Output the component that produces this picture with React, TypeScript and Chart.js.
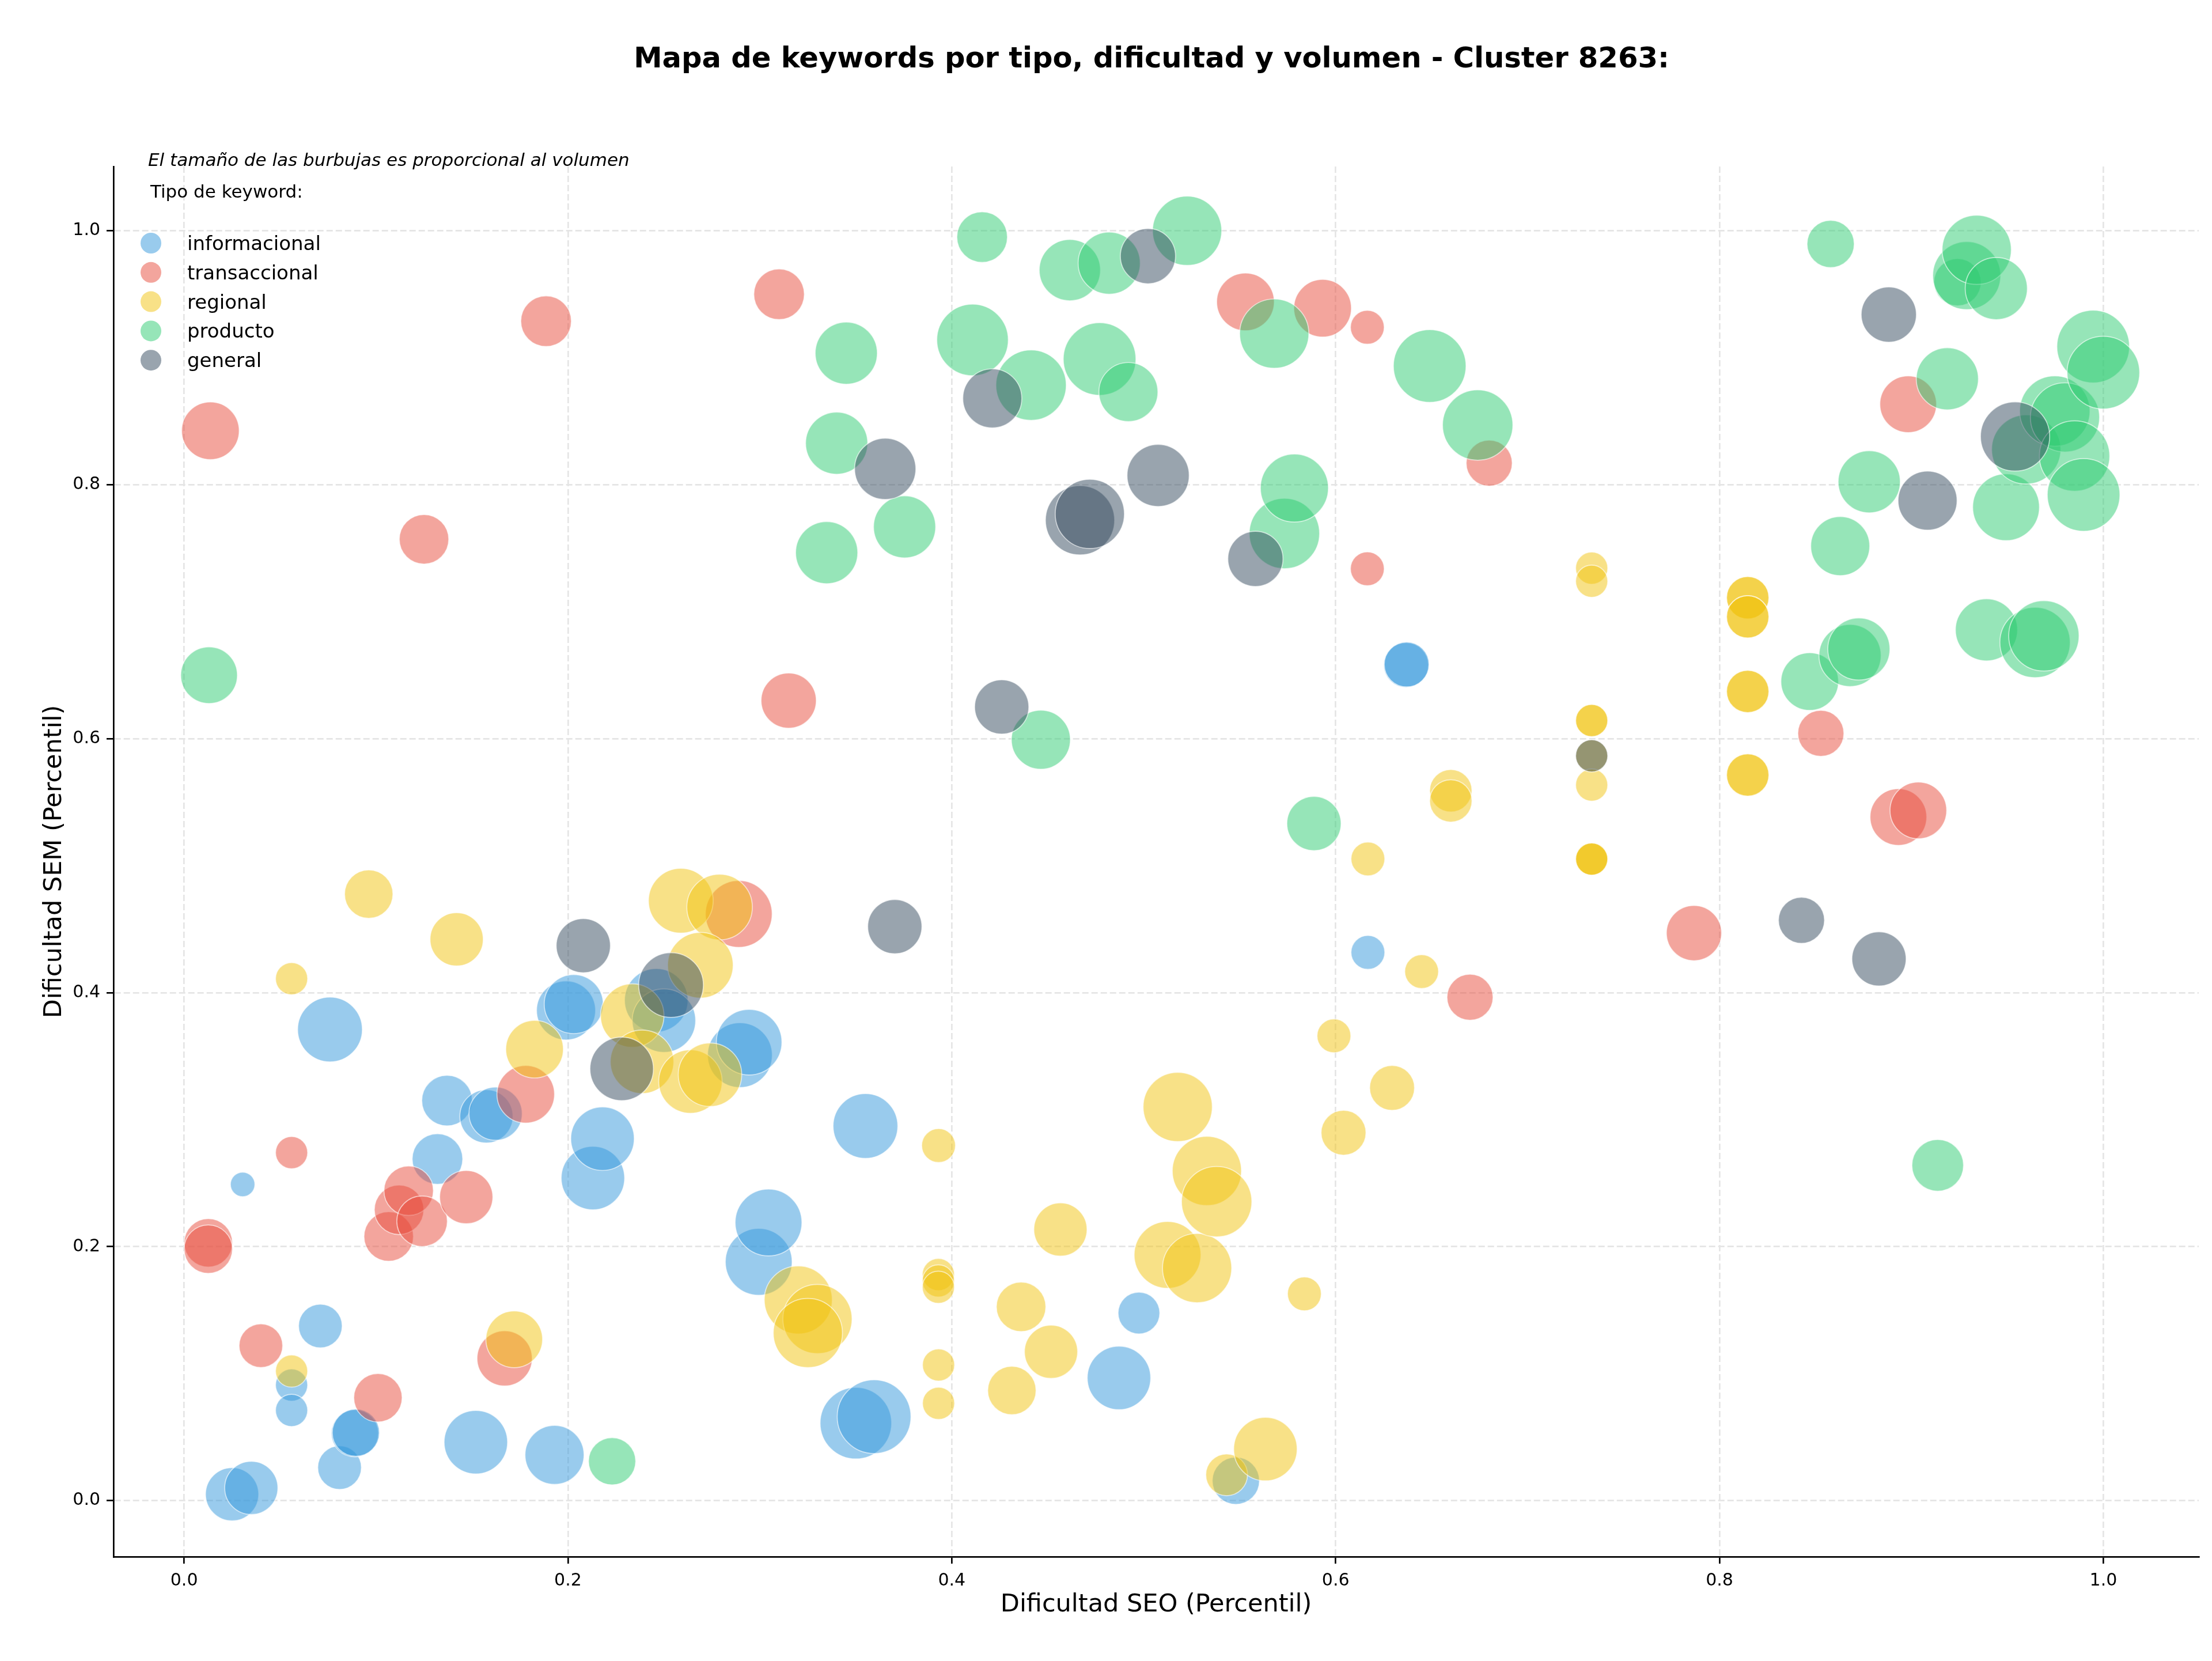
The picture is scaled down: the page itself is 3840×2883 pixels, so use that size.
import { useEffect, useRef } from "react";
import { Chart, registerables } from "chart.js";

Chart.register(...registerables);

const titulo = "Mapa de keywords por tipo, dificultad y volumen - Cluster 8263:";
const subtitulo = "El tamaño de las burbujas es proporcional al volumen";
const tituloLeyenda = "Tipo de keyword:";
const etiquetaX = "Dificultad SEO (Percentil)";
const etiquetaY = "Dificultad SEM (Percentil)";

const tipos = ["informacional", "transaccional", "regional", "producto", "general"];
const colores = ["#3498db", "#e74c3c", "#f1c40f", "#2ecc71", "#34495e"];
const ticksX = [0, 0.2, 0.4, 0.6, 0.8, 1.0];
const ticksY = [0, 0.2, 0.4, 0.6, 0.8, 1.0];

// informacional
const infoX = [0.025, 0.035, 0.0305, 0.076, 0.056, 0.056, 0.071, 0.081, 0.089, 0.0895, 0.132, 0.137, 0.1575, 0.1623, 0.152, 0.193, 0.199, 0.203, 0.213, 0.218, 0.246, 0.25, 0.2896, 0.2944, 0.2994, 0.3045, 0.355, 0.35, 0.3595, 0.4871, 0.4975, 0.548, 0.6168, 0.6367, 0.637];
const infoY = [0.005, 0.01, 0.249, 0.371, 0.091, 0.071, 0.1375, 0.026, 0.053, 0.0535, 0.269, 0.315, 0.3026, 0.3047, 0.046, 0.036, 0.386, 0.391, 0.254, 0.285, 0.394, 0.378, 0.3508, 0.361, 0.188, 0.219, 0.295, 0.061, 0.0661, 0.0966, 0.1477, 0.0156, 0.4317, 0.658, 0.6585];
const infoVol = [52, 52, 11, 77, 19, 19, 35, 35, 41, 41, 47, 47, 52, 52, 74, 64, 64, 64, 74, 74, 74, 74, 77, 79, 82, 82, 77, 94, 100, 74, 32, 41, 21, 37, 37];

// transaccional
const transX = [0.0137, 0.0126, 0.0126, 0.04, 0.056, 0.101, 0.1066, 0.112, 0.117, 0.124, 0.125, 0.147, 0.167, 0.178, 0.1886, 0.289, 0.31, 0.315, 0.553, 0.5932, 0.6165, 0.6165, 0.67, 0.68, 0.7867, 0.8528, 0.8983, 0.8932, 0.9036];
const transY = [0.8425, 0.203, 0.198, 0.122, 0.274, 0.081, 0.208, 0.229, 0.244, 0.22, 0.757, 0.239, 0.112, 0.32, 0.9288, 0.462, 0.95, 0.63, 0.944, 0.939, 0.924, 0.7338, 0.3964, 0.817, 0.4469, 0.6042, 0.8634, 0.5383, 0.5435];
const transVol = [61, 43, 43, 35, 19, 43, 45, 45, 45, 47, 45, 52, 56, 61, 47, 82, 47, 56, 61, 61, 21, 21, 39, 39, 56, 39, 59, 59, 59];

// regional
const regX = [0.056, 0.056, 0.0962, 0.142, 0.1826, 0.172, 0.2335, 0.2386, 0.2588, 0.279, 0.269, 0.2638, 0.274, 0.32, 0.33, 0.325, 0.3931, 0.393, 0.393, 0.393, 0.3931, 0.3931, 0.4313, 0.4361, 0.4517, 0.4566, 0.5124, 0.5177, 0.5278, 0.5329, 0.538, 0.5432, 0.5634, 0.5837, 0.5991, 0.6041, 0.6168, 0.6294, 0.6448, 0.66, 0.66, 0.7334, 0.7334, 0.7334, 0.7334, 0.7334, 0.7334, 0.7334, 0.7334, 0.7334, 0.8147, 0.8147, 0.8147, 0.8147, 0.8147, 0.8147, 0.8147, 0.8147];
const regY = [0.411, 0.102, 0.4776, 0.442, 0.3555, 0.127, 0.382, 0.3456, 0.4724, 0.4674, 0.4216, 0.33, 0.3354, 0.158, 0.143, 0.132, 0.2796, 0.178, 0.173, 0.168, 0.1068, 0.0766, 0.0867, 0.1526, 0.1172, 0.2135, 0.1935, 0.31, 0.1831, 0.2596, 0.2354, 0.0203, 0.0406, 0.1628, 0.366, 0.2897, 0.5053, 0.325, 0.4166, 0.559, 0.551, 0.7343, 0.724, 0.6143, 0.6143, 0.5865, 0.5635, 0.5052, 0.5052, 0.5052, 0.711, 0.711, 0.696, 0.696, 0.6372, 0.6372, 0.5714, 0.5714];
const regVol = [19, 19, 43, 52, 61, 59, 74, 74, 77, 79, 79, 74, 74, 85, 88, 88, 21, 19, 19, 19, 19, 19, 43, 45, 52, 52, 82, 88, 88, 88, 91, 32, 74, 21, 21, 37, 21, 37, 21, 33, 33, 19, 19, 19, 19, 19, 19, 19, 19, 19, 33, 33, 33, 33, 33, 33, 33, 33];

// producto
const prodX = [0.013, 0.223, 0.3348, 0.34, 0.345, 0.3754, 0.4108, 0.4158, 0.4413, 0.4464, 0.4615, 0.477, 0.482, 0.492, 0.5226, 0.568, 0.5733, 0.5785, 0.5887, 0.649, 0.674, 0.847, 0.8579, 0.8629, 0.868, 0.8726, 0.878, 0.9137, 0.9187, 0.924, 0.9288, 0.934, 0.9391, 0.9442, 0.9493, 0.9598, 0.9644, 0.969, 0.9747, 0.98, 0.985, 0.9897, 0.9947, 1.0];
const prodY = [0.65, 0.031, 0.7465, 0.8327, 0.9036, 0.7668, 0.914, 0.995, 0.8784, 0.5992, 0.969, 0.899, 0.9745, 0.873, 1.0, 0.919, 0.7616, 0.7974, 0.5332, 0.8935, 0.847, 0.645, 0.9896, 0.7517, 0.6655, 0.6706, 0.8023, 0.264, 0.8834, 0.9595, 0.9647, 0.985, 0.6857, 0.9545, 0.7823, 0.8278, 0.6758, 0.681, 0.858, 0.853, 0.8226, 0.792, 0.9088, 0.8883];
const prodVol = [59, 41, 71, 71, 71, 71, 94, 47, 91, 64, 69, 97, 71, 64, 88, 88, 91, 85, 54, 97, 91, 61, 41, 64, 71, 71, 71, 49, 71, 41, 85, 88, 71, 71, 82, 88, 91, 91, 91, 88, 91, 97, 97, 97];

// general
const genX = [0.208, 0.228, 0.2537, 0.3653, 0.3703, 0.4211, 0.426, 0.4668, 0.4719, 0.5022, 0.5075, 0.5582, 0.7334, 0.8427, 0.8831, 0.8882, 0.9084, 0.954];
const genY = [0.437, 0.34, 0.406, 0.8125, 0.452, 0.868, 0.625, 0.772, 0.777, 0.98, 0.8073, 0.7416, 0.5865, 0.457, 0.4266, 0.934, 0.7875, 0.838];
const genVol = [54, 74, 77, 69, 54, 64, 54, 88, 88, 56, 71, 56, 19, 39, 54, 56, 64, 88];

const series = [
  { x: infoX, y: infoY, vol: infoVol },
  { x: transX, y: transY, vol: transVol },
  { x: regX, y: regY, vol: regVol },
  { x: prodX, y: prodY, vol: prodVol },
  { x: genX, y: genY, vol: genVol },
];

const FONT = "'DejaVu Sans', 'Liberation Sans', sans-serif";

function conAlfa(hex: string, a: number) {
  const n = parseInt(hex.slice(1), 16);
  return `rgba(${(n >> 16) & 255}, ${(n >> 8) & 255}, ${n & 255}, ${a})`;
}

// radio de la burbuja proporcional a la raíz del volumen (área ∝ volumen)
const radio = (v: number) => 6.4 * Math.sqrt(v);

const textos = {
  id: "textos",
  afterDraw(chart: Chart) {
    const ctx = chart.ctx;
    const { left, right, top, bottom } = chart.chartArea;
    ctx.save();
    ctx.fillStyle = "#000";

    ctx.textAlign = "center";
    ctx.textBaseline = "alphabetic";
    ctx.font = `bold 49.6px ${FONT}`;
    ctx.fillText(titulo, (left + right) / 2 - 8, 117);

    ctx.font = `43px ${FONT}`;
    ctx.fillText(etiquetaX, (left + right) / 2, 2797);

    ctx.save();
    ctx.translate(106, (top + bottom) / 2);
    ctx.rotate(-Math.PI / 2);
    ctx.fillText(etiquetaY, 0, 0);
    ctx.restore();

    ctx.textAlign = "left";
    ctx.font = `italic 31px ${FONT}`;
    ctx.fillText(subtitulo, 257, 288);

    ctx.font = `31px ${FONT}`;
    ctx.fillText(tituloLeyenda, 261, 343);

    ctx.font = `34px ${FONT}`;
    tipos.forEach((t, i) => {
      const cy = 422 + i * 50.8;
      ctx.beginPath();
      ctx.arc(262, cy, 18, 0, Math.PI * 2);
      ctx.fillStyle = conAlfa(colores[i], 0.5);
      ctx.fill();
      ctx.fillStyle = "#000";
      ctx.fillText(t, 325, cy + 12);
    });
    ctx.restore();
  },
};

const App: React.FC = () => {
  const canvasRef = useRef<HTMLCanvasElement | null>(null);
  const chartRef = useRef<Chart | null>(null);

  useEffect(() => {
    if (chartRef.current) chartRef.current.destroy();
    const ctx = canvasRef.current?.getContext("2d");
    if (!ctx) return;

    const datasets = tipos.map((t, i) => ({
      label: t,
      data: series[i].x.map((x, j) => ({ x, y: series[i].y[j], r: radio(series[i].vol[j]) })),
      backgroundColor: conAlfa(colores[i], 0.5),
      borderColor: "rgba(255,255,255,0.6)",
      borderWidth: 1.7,
      order: tipos.length - i,
    }));

    chartRef.current = new Chart(ctx, {
      type: "bubble",
      data: { datasets },
      options: {
        animation: false,
        responsive: true,
        maintainAspectRatio: false,
        devicePixelRatio: 1,
        events: [],
        layout: { autoPadding: false, padding: { top: 289, right: 23, left: 0, bottom: 0 } },
        plugins: {
          legend: { display: false },
          tooltip: { enabled: false },
        },
        scales: {
          x: {
            type: "linear",
            min: -0.0368,
            max: 1.0497,
            afterBuildTicks: (s: any) => {
              s.ticks = ticksX.map((v) => ({ value: v }));
            },
            afterFit: (s: any) => {
              s.height = 181;
              s.paddingLeft = 0;
              s.paddingRight = 0;
            },
            ticks: {
              font: { family: FONT, size: 30 },
              color: "#000",
              padding: 12,
              maxRotation: 0,
              callback: (v: any) => Number(v).toFixed(1),
            },
            grid: { color: "#e5e5e5", lineWidth: 2.7, tickColor: "#000", tickLength: 12, tickWidth: 2.7 },
            border: { color: "#000", width: 2.7, dash: [11, 5] },
          },
          y: {
            type: "linear",
            min: -0.0442,
            max: 1.0506,
            afterBuildTicks: (s: any) => {
              s.ticks = ticksY.map((v) => ({ value: v }));
            },
            afterFit: (s: any) => {
              s.width = 197;
              s.paddingTop = 0;
              s.paddingBottom = 0;
            },
            ticks: {
              font: { family: FONT, size: 30 },
              color: "#000",
              padding: 11,
              callback: (v: any) => Number(v).toFixed(1),
            },
            grid: { color: "#e5e5e5", lineWidth: 2.7, tickColor: "#000", tickLength: 12, tickWidth: 2.7 },
            border: { color: "#000", width: 2.7, dash: [11, 5] },
          },
        },
      },
      plugins: [textos],
    });

    return () => {
      if (chartRef.current) {
        chartRef.current.destroy();
        chartRef.current = null;
      }
    };
  }, []);

  return (
    <div style={{ position: "absolute", left: 0, top: 0, width: "3840px", height: "2883px", background: "#fff" }}>
      <canvas ref={canvasRef} />
    </div>
  );
};

export default App;
